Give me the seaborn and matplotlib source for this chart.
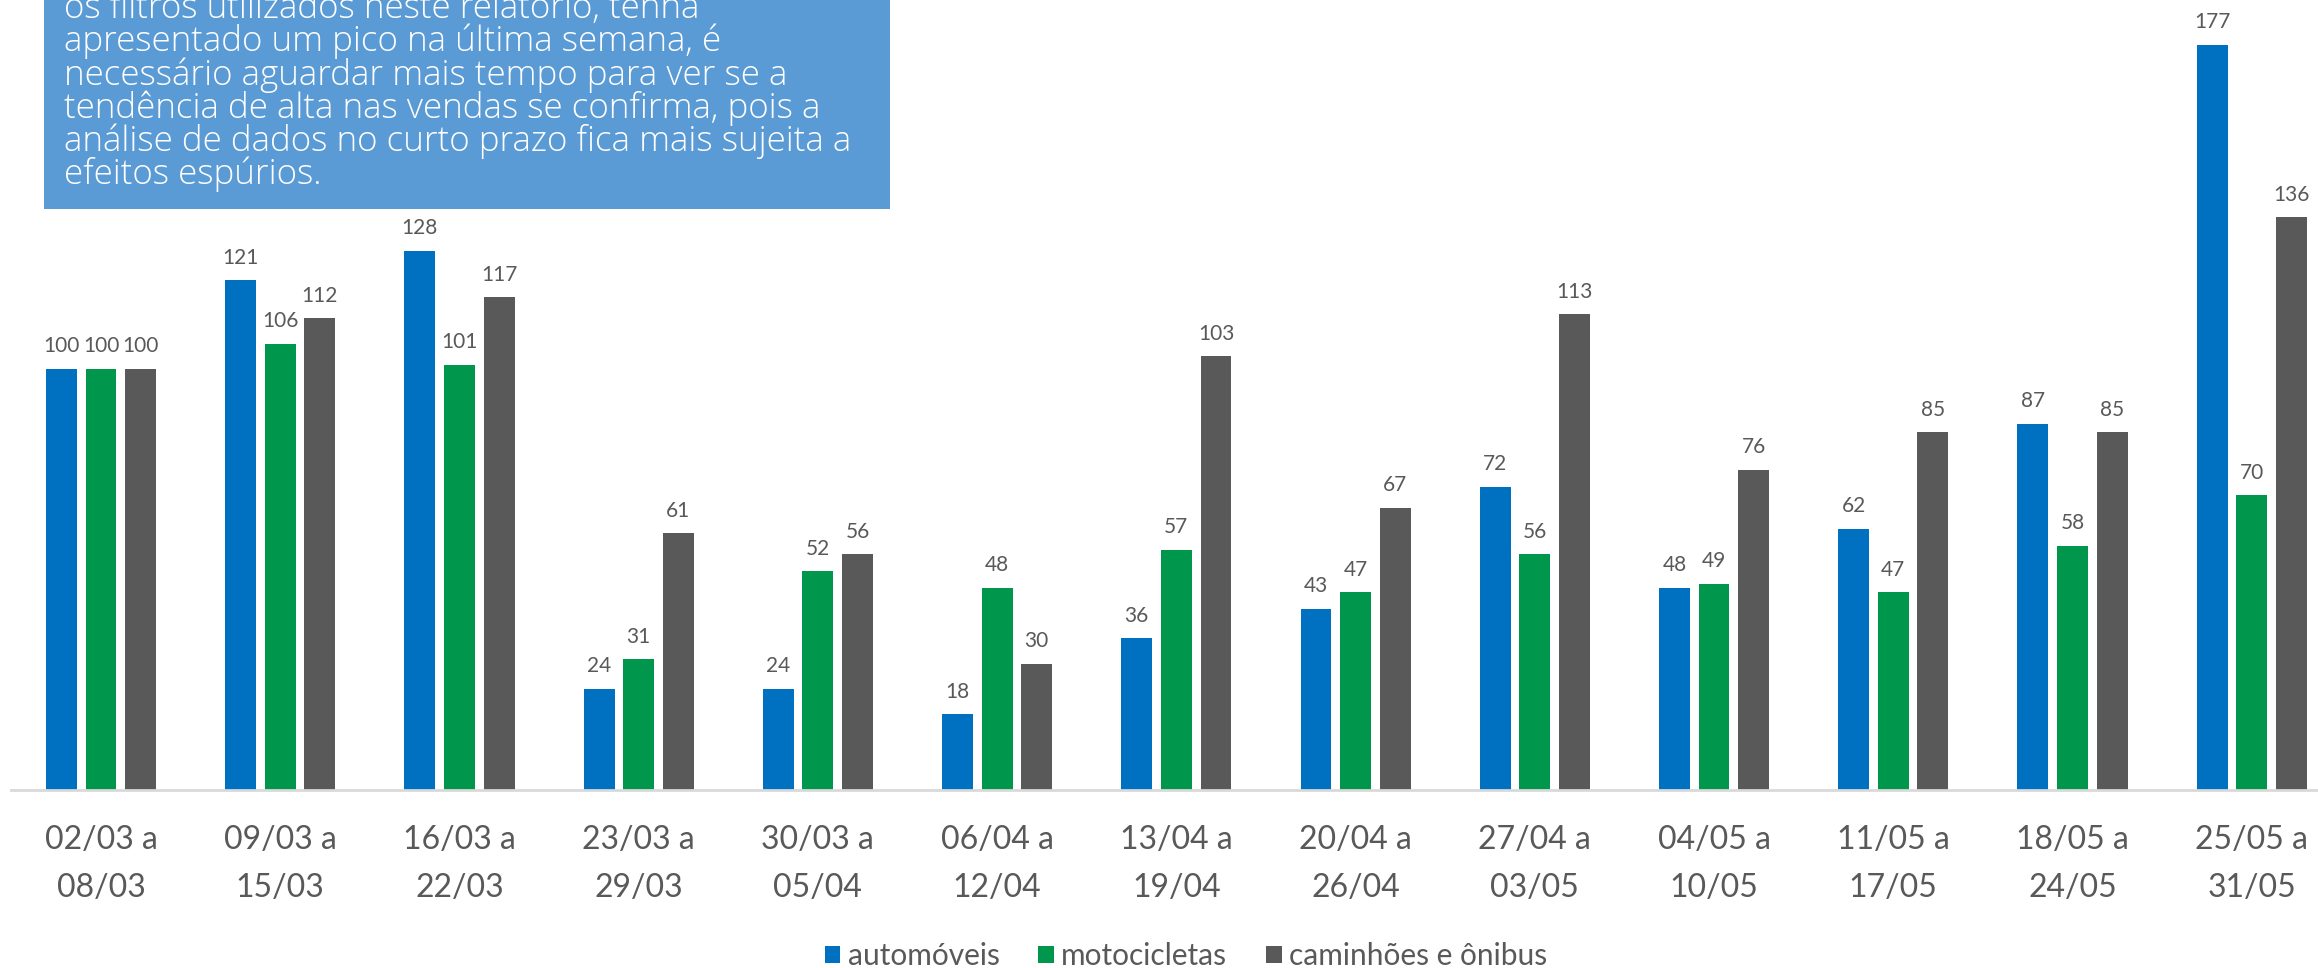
import matplotlib
matplotlib.use("Agg")
import matplotlib.pyplot as plt
from matplotlib.patches import Rectangle
import seaborn as sns
import pandas as pd

# ---------------- data ----------------
semanas = ["02/03 a\n08/03", "09/03 a\n15/03", "16/03 a\n22/03", "23/03 a\n29/03",
           "30/03 a\n05/04", "06/04 a\n12/04", "13/04 a\n19/04", "20/04 a\n26/04",
           "27/04 a\n03/05", "04/05 a\n10/05", "11/05 a\n17/05", "18/05 a\n24/05",
           "25/05 a\n31/05"]
automoveis = [100, 121, 128, 24, 24, 18, 36, 43, 72, 48, 62, 87, 177]
motocicletas = [100, 106, 101, 31, 52, 48, 57, 47, 56, 49, 47, 58, 70]
caminhoes_onibus = [100, 112, 117, 61, 56, 30, 103, 67, 113, 76, 85, 85, 136]
series_nomes = ["automóveis", "motocicletas", "caminhões e ônibus"]
texto_caixa = [
    "os filtros utilizados neste relatório, tenha",
    "apresentado um pico na última semana, é",
    "necessário aguardar mais tempo para ver se a",
    "tendência de alta nas vendas se confirma, pois a",
    "análise de dados no curto prazo fica mais sujeita a",
    "efeitos espúrios.",
]

cores = ["#0070C0", "#00964B", "#595959"]
cinza_txt = "#595959"

df = pd.DataFrame({
    "semana": semanas * 3,
    "serie": sum([[n] * len(semanas) for n in series_nomes], []),
    "valor": automoveis + motocicletas + caminhoes_onibus,
})

# ---------------- figure ----------------
sns.set_theme(style="white")
plt.rcParams["font.family"] = ["Lato", "DejaVu Sans"]

W, H = 2318, 968
fig = plt.figure(figsize=(W / 100, H / 100), dpi=100)
left_px = 11.4
ax = fig.add_axes([left_px / W, (H - 790) / H, (W - left_px) / W, 790 / H])

sns.barplot(data=df, x="semana", y="valor", hue="serie", order=semanas,
            hue_order=series_nomes, palette=cores, width=0.663, gap=0.22,
            saturation=1, edgecolor="none", linewidth=0, ax=ax)

ax.set_xlim(-0.5, 12.37)
ax.set_ylim(0, 187.6)
ax.set_xlabel("")
ax.set_ylabel("")
ax.set_yticks([])
for s in ["top", "right", "left"]:
    ax.spines[s].set_visible(False)
ax.spines["bottom"].set_color("#D9D9D9")
ax.spines["bottom"].set_linewidth(2)
ax.tick_params(axis="x", length=0, pad=25, labelsize=23, labelcolor=cinza_txt)
for t in ax.get_xticklabels():
    t.set_linespacing(1.75)

for cont in ax.containers:
    ax.bar_label(cont, fmt="%d", padding=9, fontsize=15, color=cinza_txt)

handles, labels = ax.get_legend_handles_labels()
if ax.get_legend() is not None:
    ax.get_legend().remove()
fig.legend(handles, labels, loc="center", bbox_to_anchor=(1186 / W, 12 / H),
           ncol=3, frameon=False, fontsize=21.5, handlelength=0.52, handleheight=0.52,
           handletextpad=0.25, columnspacing=1.3, labelcolor=cinza_txt,
           borderaxespad=0, borderpad=0)

# ---------------- blue text box ----------------
fig.patches.append(Rectangle((44 / W, 1 - 209 / H), (890 - 44) / W, 209 / H,
                             transform=fig.transFigure, facecolor="#5B9BD5",
                             edgecolor="none", zorder=5))
fig.text(64 / W, 1 - 184 / H, "\n".join(texto_caixa), ha="left", va="baseline",
         color="white", fontsize=25.2, family=["Open Sans", "DejaVu Sans"],
         fontweight="light", linespacing=0.915, zorder=6)

fig.savefig("out.png", dpi=100)
